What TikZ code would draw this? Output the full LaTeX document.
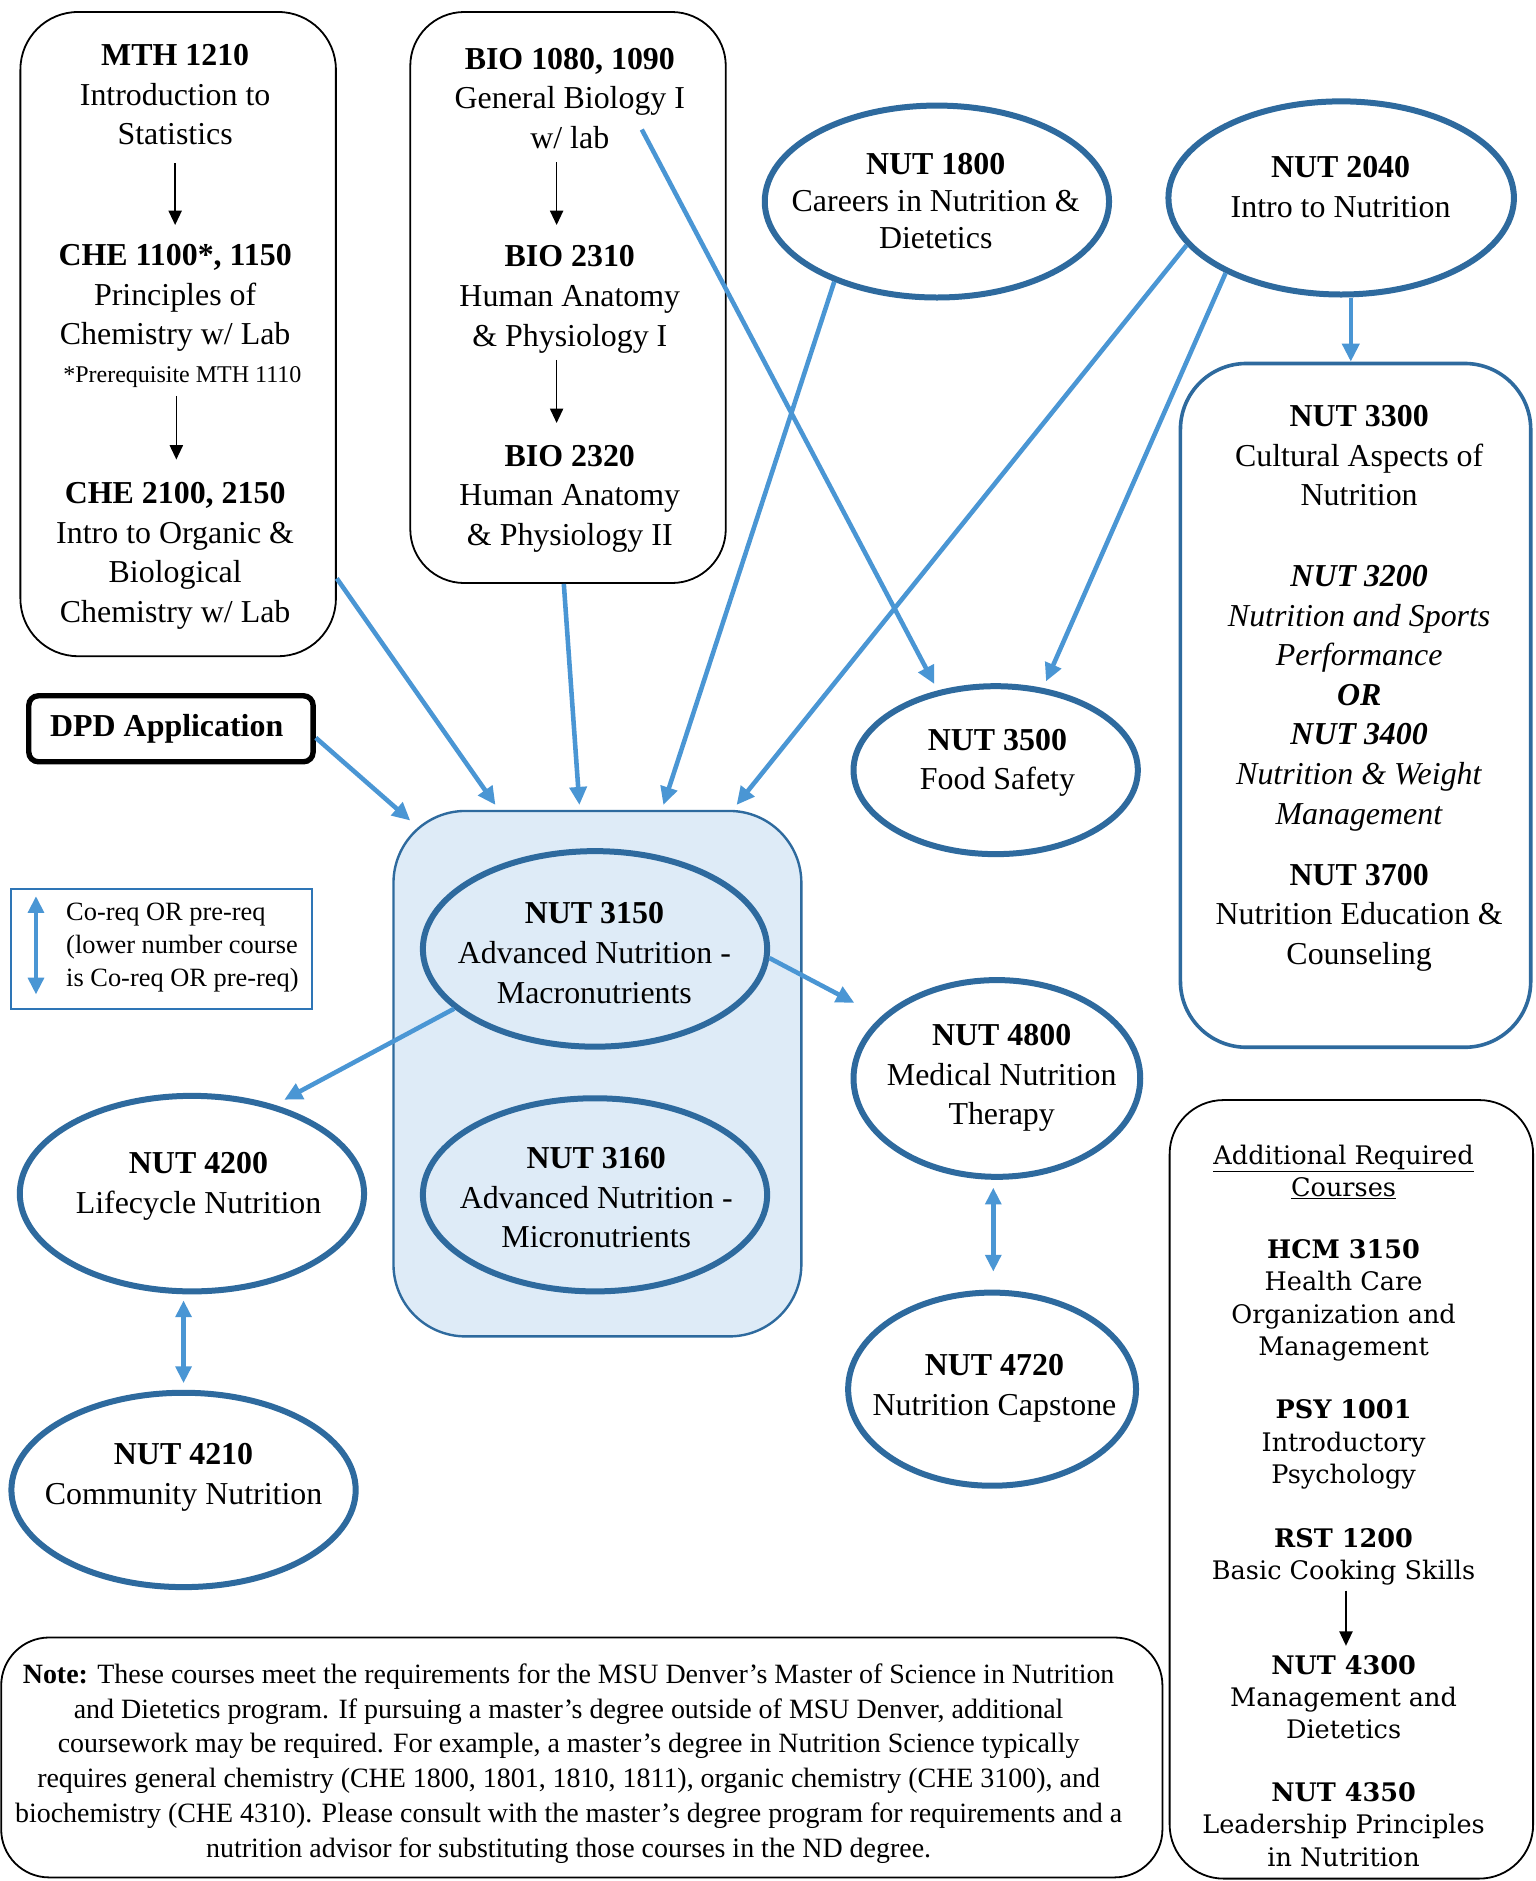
\documentclass[tikz,border=0pt]{standalone}
\usepackage{fontspec}
\setmainfont{Liberation Serif}
\newfontfamily\addfont{DejaVu Serif}
\usetikzlibrary{arrows.meta,shapes.geometric,calc}
\definecolor{lineblue}{RGB}{74,150,212}
\definecolor{darkblue}{RGB}{46,106,158}
\definecolor{lightfill}{RGB}{222,235,247}
\definecolor{legblue}{RGB}{46,117,182}
\tikzset{
 bl/.style={draw=lineblue, line width=3.8pt, -{Triangle[length=15pt,width=14pt]}},
 blboth/.style={draw=lineblue, line width=3.8pt, {Triangle[length=14pt,width=13pt]}-{Triangle[length=14pt,width=13pt]}},
 blk/.style={draw=black, line width=1.3pt, -{Triangle[length=12pt,width=11pt]}},
 ell/.style={ellipse, draw=darkblue, line width=5pt, fill=white, inner sep=0pt},
 ellin/.style={ell, fill=lightfill},
 bigtxt/.style={align=center, inner sep=0pt, font=\fontsize{26.6pt}{33pt}\selectfont},
 smalltxt/.style={align=center, inner sep=0pt, font=\fontsize{20pt}{24pt}\selectfont},
 legtxt/.style={align=left, inner sep=0pt, font=\fontsize{22pt}{27.5pt}\selectfont},
 addtxt/.style={align=center, inner sep=0pt, font=\addfont\fontsize{21.3pt}{26.8pt}\selectfont},
 notetxt/.style={align=center, inner sep=0pt, font=\fontsize{23.3pt}{29pt}\selectfont},
 blackbox/.style={draw=black, line width=1.5pt, inner sep=0pt},
 bluebox/.style={draw=darkblue, line width=3pt, inner sep=0pt},
}
\begin{document}
\begin{tikzpicture}[x=1pt,y=-1pt]
\fill[white] (0,0) rectangle (1280,1568);
\useasboundingbox (0,0) rectangle (1280,1568);

% ---------- boxes ----------
\node[blackbox, minimum width=263pt, minimum height=537pt, rounded corners=48pt] (mth) at (148.5,278.5) {};
\node[blackbox, minimum width=263pt, minimum height=476pt, rounded corners=45pt] (bio) at (473.5,248) {};
\node[bluebox, minimum width=292pt, minimum height=570pt, rounded corners=55pt] (b3300) at (1130,588) {};
\node[draw=black, line width=4.5pt, inner sep=0pt, minimum width=237pt, minimum height=55pt, rounded corners=8pt, bigtxt] (dpd) at (142.5,607.5) {\textbf{DPD Application}\hspace*{7pt}};
\node[draw=darkblue, line width=2pt, fill=lightfill, minimum width=340pt, minimum height=438pt, rounded corners=60pt] (cont) at (498,895) {};
\node[draw=legblue, line width=2pt, inner sep=0pt, minimum width=251pt, minimum height=100pt] (leg) at (134.5,791) {};
\node[blackbox, minimum width=303pt, minimum height=649pt, rounded corners=45pt] (addbox) at (1126.5,1241.5) {};
\node[blackbox, minimum width=968pt, minimum height=200pt, rounded corners=40pt] (notebox) at (485,1465) {};

% ---------- ellipses ----------
\node[ell, minimum width=287pt, minimum height=160pt] (n1800) at (781,168) {};
\node[ell, minimum width=288pt, minimum height=161pt] (n2040) at (1118,165) {};
\node[ell, minimum width=237pt, minimum height=140pt] (n3500) at (830,642) {};
\node[ellin, minimum width=287pt, minimum height=163pt] (n3150) at (496,791) {};
\node[ellin, minimum width=287pt, minimum height=161pt] (n3160) at (496,996) {};
\node[ell, minimum width=239pt, minimum height=164pt] (n4800) at (831,899) {};
\node[ell, minimum width=240pt, minimum height=161pt] (n4720) at (827,1158) {};
\node[ell, minimum width=287pt, minimum height=163pt] (n4200) at (160,995) {};
\node[ell, minimum width=287pt, minimum height=162pt] (n4210) at (153,1242) {};

% ---------- texts ----------
\node[bigtxt] (mth1) at (146,79) {\textbf{MTH 1210}\\Introduction to\\Statistics};
\node[bigtxt] (che1) at (146,248.5) {\textbf{CHE 1100*, 1150}\\Principles of\\Chemistry w/ Lab};
\node[smalltxt] (pre) at (152,314) {*Prerequisite MTH 1110};
\node[bigtxt] (che2) at (146,463.5) {\textbf{CHE 2100, 2150}\\Intro to Organic \&\\Biological\\Chemistry w/ Lab};

\node[bigtxt] (bio1) at (475,82) {\textbf{BIO 1080, 1090}\\General Biology I\\w/ lab};
\node[bigtxt] (bio2) at (475,249.5) {\textbf{BIO 2310}\\Human Anatomy\\\& Physiology I};
\node[bigtxt] (bio3) at (475,415.5) {\textbf{BIO 2320}\\Human Anatomy\\\& Physiology II};

\node[bigtxt, font=\fontsize{26.6pt}{31pt}\selectfont] (n1800t) at (780,167.5) {\textbf{NUT 1800}\\Careers in Nutrition \&\\Dietetics};
\node[bigtxt] (n2040t) at (1117.5,156) {\textbf{NUT 2040}\\Intro to Nutrition};
\node[bigtxt] (n3500t) at (831.5,636) {\textbf{NUT 3500}\\Food Safety};
\node[bigtxt] (n3150t) at (495.5,794.5) {\textbf{NUT 3150}\\Advanced Nutrition -\\Macronutrients};
\node[bigtxt] (n3160t) at (497,998.5) {\textbf{NUT 3160}\\Advanced Nutrition -\\Micronutrients};
\node[bigtxt] (n4800t) at (835,898.5) {\textbf{NUT 4800}\\Medical Nutrition\\Therapy};
\node[bigtxt] (n4720t) at (829,1157.5) {\textbf{NUT 4720}\\Nutrition Capstone};
\node[bigtxt] (n4200t) at (165.5,989) {\textbf{NUT 4200}\\Lifecycle Nutrition};
\node[bigtxt] (n4210t) at (153,1231.5) {\textbf{NUT 4210}\\Community Nutrition};

\node[bigtxt] (n3300t) at (1133,380) {\textbf{NUT 3300}\\Cultural Aspects of\\Nutrition};
\node[bigtxt] (n3200t) at (1133,582) {\textbf{\textit{NUT 3200}}\\\textit{Nutrition and Sports}\\\textit{Performance}\\\textbf{\textit{OR}}\\\textbf{\textit{NUT 3400}}\\\textit{Nutrition \& Weight}\\\textit{Management}};
\node[bigtxt] (n3700t) at (1133,765) {\textbf{NUT 3700}\\Nutrition Education \&\\Counseling};

\node[legtxt, anchor=west] (legt) at (55,790) {Co-req OR pre-req\\(lower number course\\is Co-req OR pre-req)};

\node[addtxt] (addh) at (1120,977) {\underline{Additional Required}\\\underline{Courses}};
\node[addtxt] (hcm) at (1120,1084) {\textbf{HCM 3150}\\Health Care\\Organization and\\Management};
\node[addtxt] (psy) at (1120,1204) {\textbf{PSY 1001}\\Introductory\\Psychology};
\node[addtxt] (rst) at (1120,1297.5) {\textbf{RST 1200}\\Basic Cooking Skills};
\node[addtxt] (n4300t) at (1120,1415) {\textbf{NUT 4300}\\Management and\\Dietetics};
\node[addtxt] (n4350t) at (1120,1521) {\textbf{NUT 4350}\\Leadership Principles\\in Nutrition};

\node[notetxt] (notet) at (474,1470) {\textbf{Note:} These courses meet the requirements for the MSU Denver’s Master of Science in Nutrition\\and Dietetics program. If pursuing a master’s degree outside of MSU Denver, additional\\coursework may be required. For example, a master’s degree in Nutrition Science typically\\requires general chemistry (CHE 1800, 1801, 1810, 1811), organic chemistry (CHE 3100), and\\biochemistry (CHE 4310). Please consult with the master’s degree program for requirements and a\\nutrition advisor for substituting those courses in the ND degree.};

% ---------- black arrows ----------
\draw[blk, shorten <=15pt, shorten >=16pt] (mth1.south) -- (che1.north);
\draw[blk, shorten <=7pt, shorten >=19pt] ($(che2.north |- pre.south)+(1,0)$) -- ($(che2.north)+(1,0)$);
\draw[blk, shorten <=11pt, shorten >=17pt] ([xshift=-11pt]bio1.south) -- ([xshift=-11pt]bio2.north);
\draw[blk, shorten <=5.5pt, shorten >=18pt] ([xshift=-11pt]bio2.south) -- ([xshift=-11pt]bio3.north);
\draw[blk, shorten <=4.5pt, shorten >=8pt] ([xshift=2pt]rst.south) -- ([xshift=2pt]n4300t.north);

% ---------- blue arrows ----------
\coordinate (wlab) at (535,108);
\draw[bl] (mth.-57.3) -- ([xshift=86pt,yshift=4pt]cont.north west);
\draw[bl] ([xshift=-3.5pt]bio.south) -- ([xshift=156pt,yshift=4pt]cont.north west);
\draw[bl] (n1800.218) -- ([xshift=226pt,yshift=4pt]cont.north west);
\draw[bl] (n2040.197) -- ([xshift=287pt,yshift=4pt]cont.north west);
\draw[bl, shorten >=6pt] (wlab) -- (n3500.126.2);
\draw[bl, shorten >=6pt] (n2040.213) -- (n3500.60);
\draw[bl] ([xshift=8pt]n2040.south) -- ([xshift=-4pt]b3300.north);
\draw[bl] ([yshift=-7.5pt]dpd.east) -- ([xshift=15pt,yshift=-9pt]cont.north west);
\draw[bl, shorten >=25pt] (n3150.-3) -- (n4800.152);
\draw[bl, shorten >=9pt] (n3150.203) -- (n4200.47.3);
\draw[blboth, shorten <=6.5pt, shorten >=15pt] ([xshift=-3pt]n4800.south) -- ([xshift=1pt]n4720.north);
\draw[blboth, shorten <=5pt, shorten >=5.5pt] ([xshift=-7pt]n4200.south) -- (n4210.north);
\draw[blboth] ([xshift=22pt,yshift=-7pt]leg.north west) -- ([xshift=22pt,yshift=13pt]leg.south west);
\end{tikzpicture}
\end{document}
